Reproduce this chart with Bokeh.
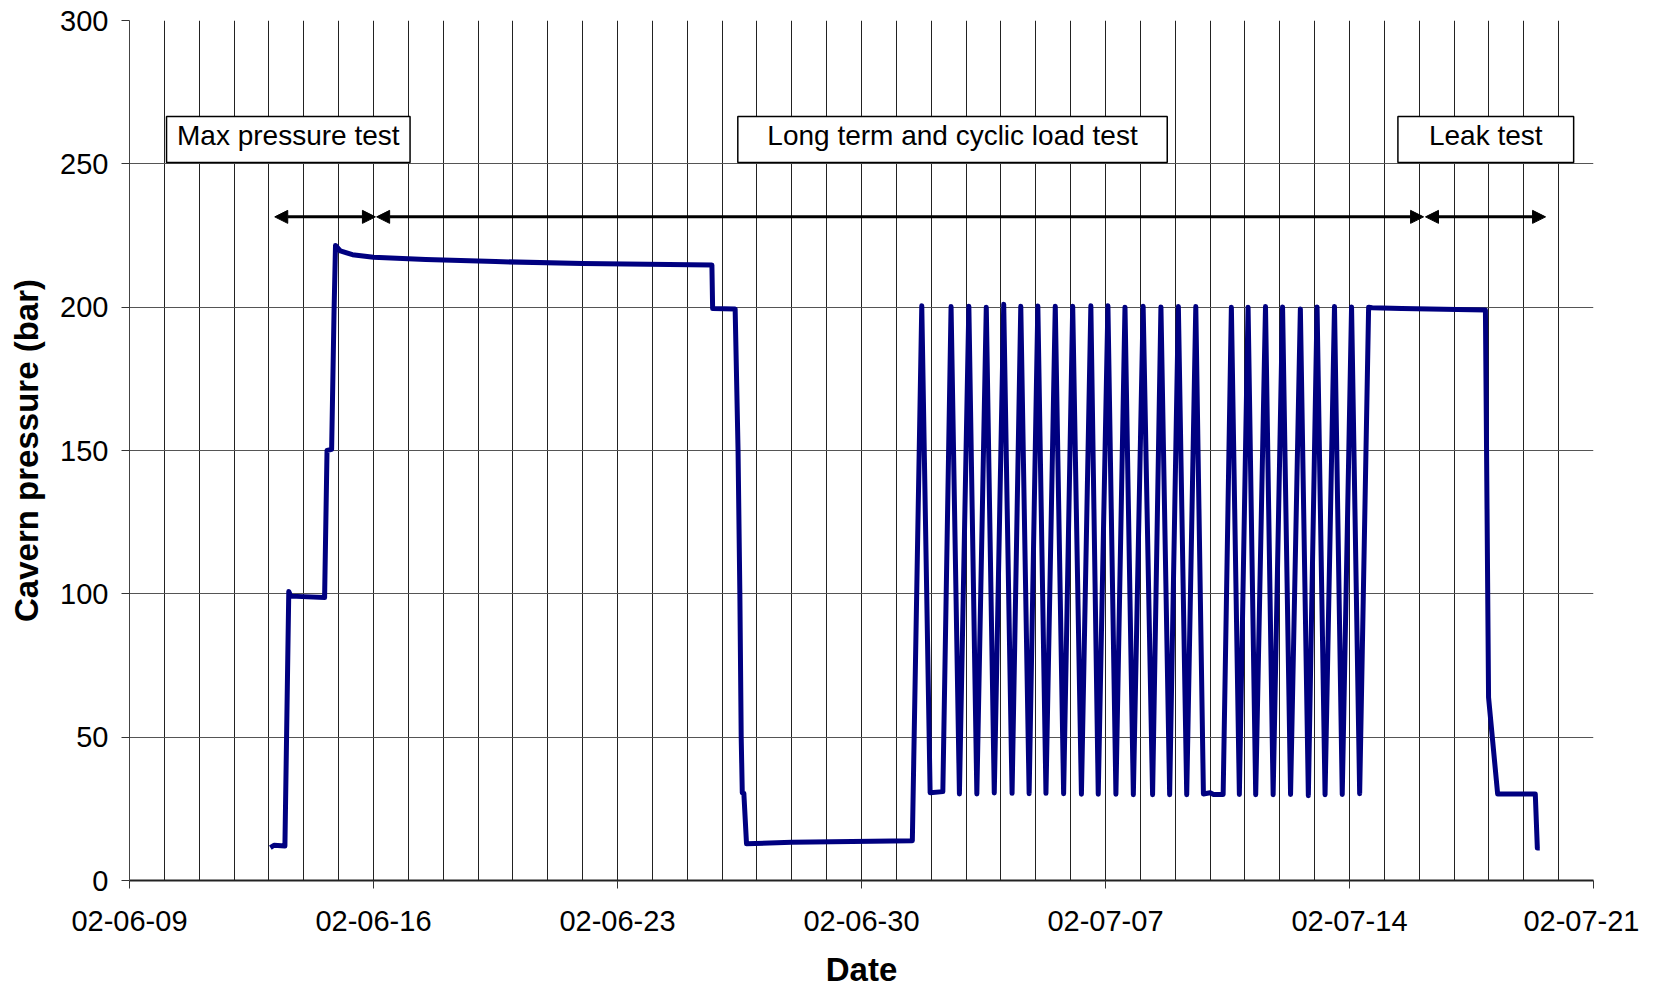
import pandas as pd
from bokeh.plotting import figure
from bokeh.models import (Range1d, FixedTicker, DatetimeTickFormatter, Arrow,
                          NormalHead, ColumnDataSource)
from bokeh.embed import file_html
from bokeh.resources import INLINE
from bokeh.core.properties import value

# ---- data ----
times = [
    "2002-06-13 01:00", "2002-06-13 03:30", "2002-06-13 11:00", "2002-06-13 13:40",
    "2002-06-13 15:00", "2002-06-14 14:20", "2002-06-14 16:00", "2002-06-14 19:10",
    "2002-06-14 20:50", "2002-06-14 21:50", "2002-06-15 01:10", "2002-06-15 09:30",
    "2002-06-16 00:00", "2002-06-17 12:00", "2002-06-19 12:00", "2002-06-22 00:00",
    "2002-06-25 17:00", "2002-06-25 17:30", "2002-06-26 09:00", "2002-06-26 11:00",
    "2002-06-26 12:15", "2002-06-26 13:10", "2002-06-26 13:55", "2002-06-26 15:00",
    "2002-06-26 16:50", "2002-06-28 00:00", "2002-07-01 11:00",
    "2002-07-01 17:30", "2002-07-01 23:15", "2002-07-02 08:00",
    "2002-07-02 13:40", "2002-07-02 19:25", "2002-07-03 01:55", "2002-07-03 07:25",
    "2002-07-03 13:55", "2002-07-03 19:25", "2002-07-04 01:55", "2002-07-04 07:40",
    "2002-07-04 13:40", "2002-07-04 19:25", "2002-07-05 01:25", "2002-07-05 07:00",
    "2002-07-05 13:25", "2002-07-05 19:10", "2002-07-06 01:25", "2002-07-06 07:25",
    "2002-07-06 13:55", "2002-07-06 19:00", "2002-07-07 01:40", "2002-07-07 07:10",
    "2002-07-07 13:25", "2002-07-07 19:10", "2002-07-08 01:55", "2002-07-08 08:25",
    "2002-07-08 14:10", "2002-07-08 20:10", "2002-07-09 02:10", "2002-07-09 07:55",
    "2002-07-09 14:10", "2002-07-09 19:25", "2002-07-10 00:00", "2002-07-10 02:25",
    "2002-07-10 09:00",
    "2002-07-10 14:40", "2002-07-10 20:10", "2002-07-11 02:10", "2002-07-11 07:25",
    "2002-07-11 14:10", "2002-07-11 19:25", "2002-07-12 01:55", "2002-07-12 07:25",
    "2002-07-12 14:10", "2002-07-12 19:40", "2002-07-13 01:40", "2002-07-13 07:10",
    "2002-07-13 13:40", "2002-07-13 19:00", "2002-07-14 01:25", "2002-07-14 07:00",
    "2002-07-14 13:10", "2002-07-14 15:35", "2002-07-15 12:00", "2002-07-17 21:35",
    "2002-07-17 23:45", "2002-07-18 06:00", "2002-07-19 07:55", "2002-07-19 09:20",
    "2002-07-19 11:00",
]
pressure = [
    11.5, 12.3, 12.0, 100.8,
    99.2, 98.7, 150.0, 150.4,
    198.5, 221.5, 219.6, 218.3,
    217.4, 216.6, 215.9, 215.2,
    214.7, 199.5, 199.4, 150.0,
    100.0, 50.0, 30.6, 30.4,
    12.8, 13.3, 13.9,
    200.5, 30.6, 31.0,
    200.2, 30.2, 200.3, 30.2,
    200.0, 30.5, 201.0, 30.4,
    200.3, 30.3, 200.4, 30.4,
    200.3, 30.3, 200.3, 30.1,
    200.5, 30.1, 200.5, 30.1,
    200.0, 29.9, 200.3, 29.9,
    200.1, 29.9, 200.2, 29.9,
    200.2, 30.2, 30.6, 30.0,
    30.0,
    200.0, 30.0, 200.0, 29.9,
    200.2, 29.9, 200.1, 30.0,
    199.4, 29.6, 200.1, 29.9,
    200.2, 30.0, 200.1, 30.3,
    200.0, 199.8, 199.5, 199.0,
    63.8, 30.2, 30.2, 11.3,
    11.3,
]

x_start_date = "2002-06-09"
x_end_date = "2002-07-21"
x_tick_dates = ["2002-06-09", "2002-06-16", "2002-06-23", "2002-06-30",
                "2002-07-07", "2002-07-14", "2002-07-21"]
y_ticks = [0, 50, 100, 150, 200, 250, 300]

phase_names = ["Max pressure test", "Long term and cyclic load test", "Leak test"]
phase_box_left = ["2002-06-10 01:30", "2002-06-26 10:50", "2002-07-15 09:20"]
phase_box_right = ["2002-06-17 01:10", "2002-07-08 18:30", "2002-07-20 10:20"]
phase_box_bottom = [250.5, 250.5, 250.5]
phase_box_top = [266.5, 266.5, 266.5]

arrow_start = ["2002-06-13 04:00", "2002-06-16 02:10", "2002-07-16 04:20"]
arrow_end = ["2002-06-16 01:20", "2002-07-16 03:00", "2002-07-19 15:00"]
arrow_level = [231.5, 231.5, 231.5]

# ---- build ----
FONT = "Liberation Sans"


def ms(s):
    return pd.Timestamp(s).value / 1e6


src = ColumnDataSource(dict(t=pd.to_datetime(times), p=pressure))

p = figure(x_axis_type="datetime",
           x_range=Range1d(ms(x_start_date), ms(x_end_date)),
           y_range=Range1d(0, 300),
           frame_width=1464, frame_height=860,
           min_border_left=129, min_border_right=46,
           min_border_top=20, min_border_bottom=100,
           output_backend="svg", toolbar_location=None)
p.outline_line_color = None
p.background_fill_color = "white"

# grid: every day vertically, every 50 bar horizontally
day_ticks = [ms(d) for d in pd.date_range(x_start_date, x_end_date, freq="D")]
p.xgrid.ticker = FixedTicker(ticks=day_ticks)
p.xgrid.grid_line_color = "#222222"
p.xgrid.grid_line_width = 1
p.ygrid.ticker = FixedTicker(ticks=y_ticks)
p.ygrid.grid_line_color = "#555555"
p.ygrid.grid_line_width = 1

fmt = "%y-%m-%d"
p.xaxis.ticker = FixedTicker(ticks=[ms(d) for d in x_tick_dates])
p.xaxis.formatter = DatetimeTickFormatter(
    microseconds=fmt, milliseconds=fmt, seconds=fmt, minsec=fmt, minutes=fmt,
    hourmin=fmt, hours=fmt, days=fmt, months=fmt, years=fmt)
p.yaxis.ticker = FixedTicker(ticks=y_ticks)

for ax in (p.xaxis[0], p.yaxis[0]):
    ax.minor_tick_line_color = None
    ax.major_tick_in = 0
    ax.major_tick_out = 8
    ax.major_tick_line_color = "#333333"
    ax.major_label_text_font = FONT
    ax.major_label_text_font_size = "29px"
    ax.major_label_text_color = "black"
    ax.axis_label_text_font = FONT
    ax.axis_label_text_font_size = "33px"
    ax.axis_label_text_font_style = "bold"
    ax.axis_label_text_color = "black"

p.xaxis.axis_label = "Date"
p.yaxis.axis_label = "Cavern pressure (bar)"
p.xaxis.axis_line_color = "#222222"
p.xaxis.axis_line_width = 2
p.yaxis.axis_line_color = "#444444"
p.yaxis.axis_line_width = 1
p.xaxis.major_label_standoff = 22
p.yaxis.major_label_standoff = 13
p.xaxis.axis_label_standoff = 17
p.yaxis.axis_label_standoff = 12

# pressure curve
p.line("t", "p", source=src, line_color="#000080", line_width=5,
       line_join="round")

# phase boxes and labels
box_src = ColumnDataSource(dict(
    l=pd.to_datetime(phase_box_left), r=pd.to_datetime(phase_box_right),
    b=phase_box_bottom, t=phase_box_top, name=phase_names,
    xc=pd.to_datetime(phase_box_left) + (pd.to_datetime(phase_box_right) - pd.to_datetime(phase_box_left)) / 2,
    yc=[(b + t) / 2 for b, t in zip(phase_box_bottom, phase_box_top)],
))
p.quad(left="l", right="r", bottom="b", top="t", source=box_src,
       fill_color="white", line_color="black", line_width=1.5)
p.text(x="xc", y="yc", text="name", source=box_src, y_offset=-4,
       text_font=value(FONT), text_font_size="28px", text_color="black",
       text_align="center", text_baseline="middle")

# phase arrows
for a, b, y in zip(arrow_start, arrow_end, arrow_level):
    p.add_layout(Arrow(
        x_start=ms(a), y_start=y, x_end=ms(b), y_end=y,
        line_color="black", line_width=3,
        start=NormalHead(size=13, fill_color="black", line_color="black", line_width=1),
        end=NormalHead(size=13, fill_color="black", line_color="black", line_width=1)))

open("out.html", "w").write(file_html(p, INLINE))
